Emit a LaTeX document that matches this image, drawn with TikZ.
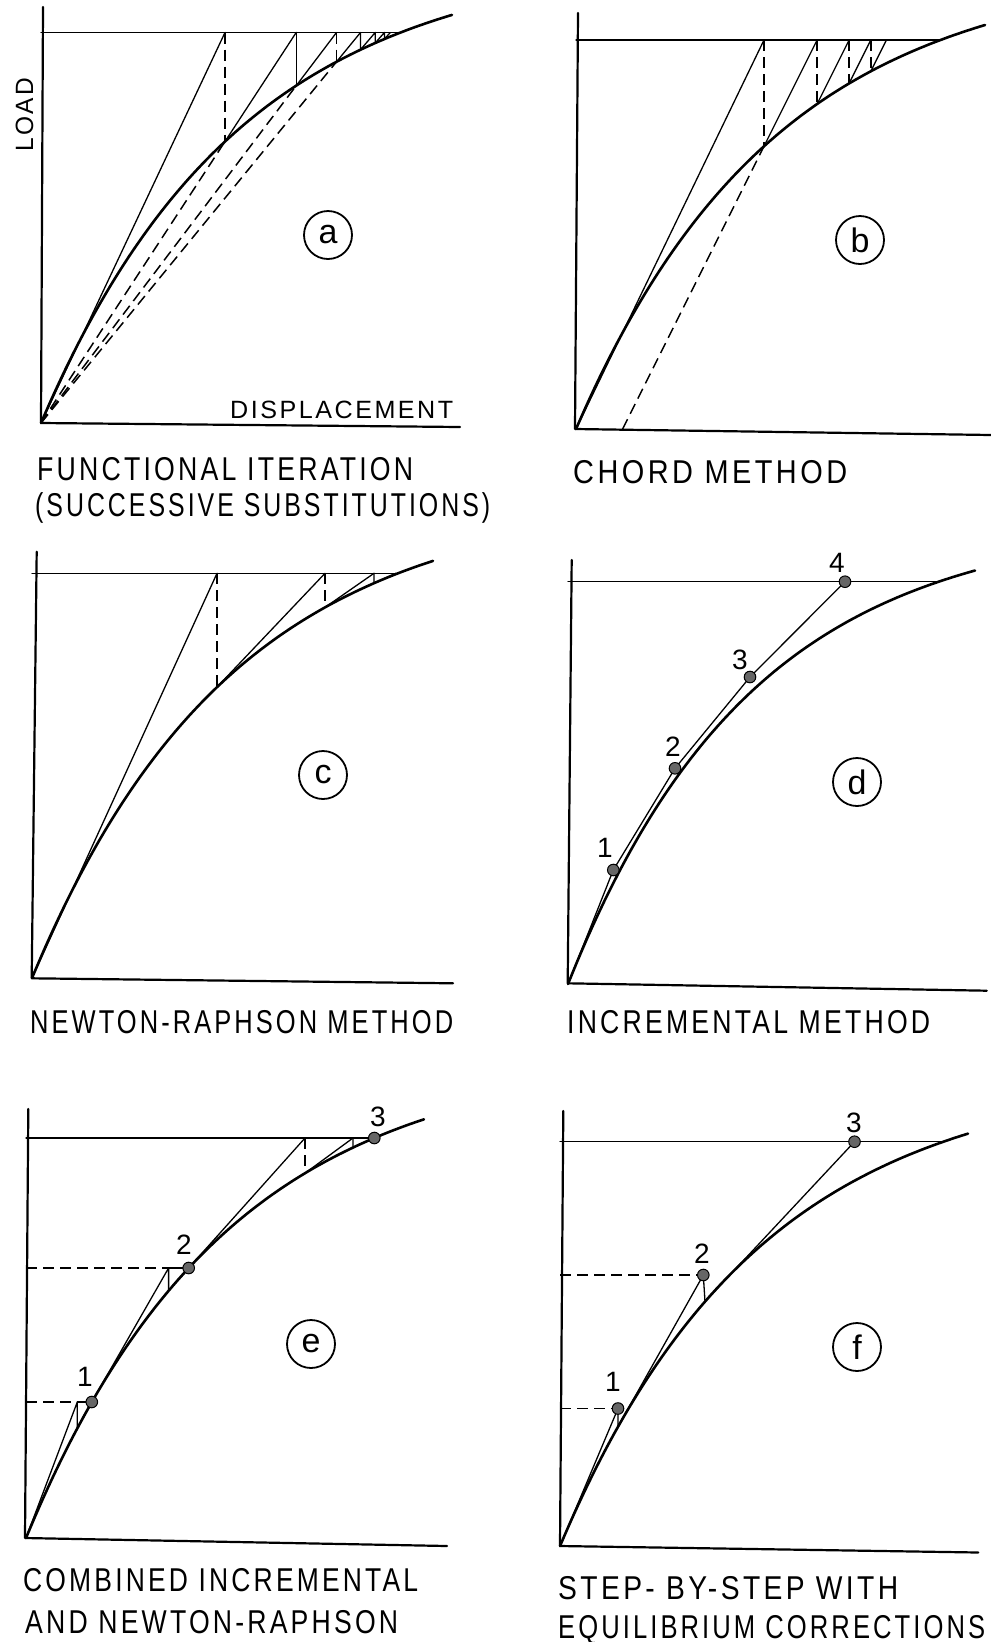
\documentclass[tikz,border=0pt]{standalone}
\usepackage{fontspec}
\setmainfont{Liberation Sans}
\usepackage{graphicx}
\newcommand\fitw[2]{\resizebox{#1}{\height}{#2}}
\tikzset{
  axis/.style={line width=2.2pt, line cap=round, line join=round},
  crv/.style={line width=2.6pt, line cap=round},
  thin/.style={line width=1.3pt, line cap=round, line join=round},
  dsh/.style={line width=1.5pt, dash pattern=on 11pt off 6pt},
  dot/.style={fill=black!60, draw=black, line width=1pt},
  capt/.style={anchor=base west, inner sep=0pt, font=\fontsize{33}{40}\selectfont\addfontfeatures{LetterSpace=12}},
  axlab/.style={anchor=base west, inner sep=0pt, font=\fontsize{25}{30}\selectfont\addfontfeatures{LetterSpace=10}},
  tag/.style={circle, draw, line width=1.8pt, minimum size=48pt, inner sep=0pt, font=\fontsize{34}{40}\selectfont},
  num/.style={inner sep=0pt, font=\fontsize{28}{33}\selectfont},
}
\begin{document}
\begin{tikzpicture}[x=1pt,y=-1pt]
\useasboundingbox (0,0) rectangle (991,1642);

% ================= panel a =================
\coordinate (aY) at (43,7); \coordinate (aO) at (41,423); \coordinate (aX) at (460,427);
\draw[axis] (aY) -- (aO) -- (aX);
\begin{scope}[shift={(41,423)}, yscale=-1]
  \draw[crv] plot[domain=0:411, samples=90] (\x,{468*(1-exp(-\x/200))});
  \coordinate (ao) at (0,0);
  \coordinate (aL) at (0,390.5); \coordinate (aE) at (359.6,390.5);
  \coordinate (at0) at (184,390.5);   \coordinate (ac0) at (184,281.5);
  \coordinate (at1) at (255.2,390.5); \coordinate (ac1) at (255.2,337.3);
  \coordinate (at2) at (295.5,390.5); \coordinate (ac2) at (295.5,361.2);
  \coordinate (at3) at (319.5,390.5); \coordinate (ac3) at (319.5,373.3);
  \coordinate (at4) at (334.2,390.5); \coordinate (ac4) at (334.2,380.0);
  \coordinate (at5) at (343.4,390.5); \coordinate (ac5) at (343.4,383.9);
  \coordinate (at6) at (349.3,390.5);
  \draw[thin] (aL) -- (aE);
  \draw[thin] (ao) -- (at0);
  \draw[dsh] (at0) -- (ac0);
  \draw[dsh] (ao) -- (ac0);
  \draw[thin] (ac0) -- (at1);
  \draw[thin] (at1) -- (ac1);
  \draw[dsh] (ao) -- (ac1);
  \draw[thin] (ac1) -- (at2);
  \draw[dsh] (at2) -- (ac2);
  \draw[dsh] (ao) -- (ac2);
  \draw[thin] (ac2) -- (at3);
  \draw[thin] (at3) -- (ac3) -- (at4) -- (ac4) -- (at5) -- (ac5) -- (at6);
\end{scope}
\node[axlab, rotate=90] (loadlab) at (33,152) {\fitw{74pt}{LOAD}};
\node[axlab] (displab) at (230,418) {\fitw{223pt}{DISPLACEMENT}};
\node[tag] (taga) at (328,235) {a};
\node[capt] (capa1) at (37,480) {\fitw{376pt}{FUNCTIONAL ITERATION}};
\node[capt] (capa2) at (35,516.5) {\fitw{455pt}{(SUCCESSIVE SUBSTITUTIONS)}};

% ================= panel b =================
\coordinate (bY) at (578,13); \coordinate (bO) at (575,429); \coordinate (bX) at (991,435);
\draw[axis] (bY) -- (bO) -- (bX);
\begin{scope}[shift={(576,429)}, yscale=-1]
  \draw[crv] plot[domain=0:409, samples=90] (\x,{464*(1-exp(-\x/200))});
  \coordinate (bo) at (0,0);
  \coordinate (bL) at (0,389); \coordinate (bE) at (364.6,389);
  \coordinate (bx) at (46.6,0);
  \coordinate (bt0) at (188,389);   \coordinate (bc0) at (188,282.8);
  \coordinate (bt1) at (241.1,389); \coordinate (bc1) at (241.1,325.0);
  \coordinate (bt2) at (273.1,389); \coordinate (bc2) at (273.1,345.6);
  \coordinate (bt3) at (294.8,389); \coordinate (bc3) at (294.8,357.7);
  \coordinate (bt4) at (310.45,389);
  \draw[thin] (bL) -- (bE);
  \draw[thin] (bo) -- (bt0);
  \draw[dsh] (bt0) -- (bc0);
  \draw[dsh] (bx) -- (bc0);
  \draw[thin] (bc0) -- (bt1);
  \draw[dsh] (bt1) -- (bc1);
  \draw[thin] (bc1) -- (bt2);
  \draw[dsh] (bt2) -- (bc2);
  \draw[thin] (bc2) -- (bt3);
  \draw[dsh] (bt3) -- (bc3);
  \draw[thin] (bc3) -- (bt4);
\end{scope}
\node[tag] (tagb) at (860,240) {b};
\node[capt] (capb) at (573,483) {\fitw{274pt}{CHORD METHOD}};

% ================= panel c =================
\coordinate (cY) at (36.7,551.7); \coordinate (cO) at (31.7,978.3); \coordinate (cX) at (453,983.3);
\draw[axis] (cY) -- (cO) -- (cX);
\begin{scope}[shift={(32,978)}, yscale=-1]
  \draw[crv] plot[domain=0:401, samples=90] (\x,{482*(1-exp(-\x/200))});
  \coordinate (co) at (0,0);
  \coordinate (cL) at (0,404.7); \coordinate (cE) at (366,404.7);
  \coordinate (ct0) at (185,404.7); \coordinate (cc0) at (185,290.9);
  \coordinate (ct1) at (293,404.7); \coordinate (cc1) at (293,370.6);
  \coordinate (ct2) at (342,404.7); \coordinate (cc2) at (342,394.8);
  \coordinate (ct3) at (364,404.7);
  \draw[thin] (cL) -- (cE);
  \draw[thin] (co) -- (ct0);
  \draw[dsh] (ct0) -- (cc0);
  \draw[thin] (cc0) -- (ct1);
  \draw[dsh] (ct1) -- (cc1);
  \draw[thin] (cc1) -- (ct2);
  \draw[thin] (ct2) -- (cc2) -- (ct3);
\end{scope}
\node[tag] (tagc) at (323,775) {c};
\node[capt] (capc) at (30,1033) {\fitw{423pt}{NEWTON-RAPHSON METHOD}};

% ================= panel d =================
\coordinate (dY) at (571.7,560); \coordinate (dO) at (567.7,983.3); \coordinate (dX) at (986.7,990.7);
\draw[axis] (dY) -- (dO) -- (dX);
\begin{scope}[shift={(568,984)}, yscale=-1]
  \draw[crv] plot[domain=0:407, samples=90] (\x,{465*(1-exp(-\x/185))});
  \coordinate (do) at (0,0);
  \coordinate (dL) at (0,402.3); \coordinate (dE) at (370.7,402.3);
  \coordinate (dP1) at (45.3,114);
  \coordinate (dP2) at (107,215.7);
  \coordinate (dP3) at (182,307);
  \coordinate (dP4) at (277,402.3);
  \draw[thin] (dL) -- (dE);
  \draw[thin] (do) -- (dP1) -- (dP2) -- (dP3) -- (dP4);
  \foreach \p in {dP1,dP2,dP3,dP4} \filldraw[dot] (\p) circle[radius=5.8];
\end{scope}
\node[num] (dn1) at (605,848) {1};
\node[num] (dn2) at (673,747) {2};
\node[num] (dn3) at (740,660) {3};
\node[num] (dn4) at (837,563) {4};
\node[tag] (tagd) at (857,782) {d};
\node[capt] (capd) at (567,1033) {\fitw{363pt}{INCREMENTAL METHOD}};

% ================= panel e =================
\coordinate (eY) at (28.3,1109); \coordinate (eO) at (25,1538); \coordinate (eX) at (447,1546);
\draw[axis] (eY) -- (eO) -- (eX);
\begin{scope}[shift={(26,1538)}, yscale=-1]
  \draw[crv] plot[domain=0:398, samples=90] (\x,{485*(1-exp(-\x/200))});
  \coordinate (eo) at (0,0);
  \coordinate (el1) at (0,136); \coordinate (el2) at (0,270); \coordinate (eL) at (0,400);
  \coordinate (eT1) at (51.3,136);  \coordinate (eD1) at (51.3,109.7); \coordinate (eP1) at (65.8,136);
  \coordinate (eT2) at (142.6,270); \coordinate (eD2) at (142.6,247.3); \coordinate (eP2) at (162.7,270);
  \coordinate (eT3) at (279,400);   \coordinate (eD3) at (279,364.8);
  \coordinate (eT4) at (327,400);   \coordinate (eD4) at (327,390.4);  \coordinate (eP3) at (348.3,400);
  \draw[dsh] (el1) -- (eT1); \draw[thin] (eT1) -- (eP1);
  \draw[dsh] (el2) -- (eT2); \draw[thin] (eT2) -- (eP2);
  \draw[thin] (eL) -- (eP3);
  \draw[thin] (eo) -- (eT1) -- (eD1) -- (eP1) -- (eT2) -- (eD2) -- (eP2) -- (eT3);
  \draw[dsh] (eT3) -- (eD3);
  \draw[thin] (eD3) -- (eT4);
  \draw[thin] (eT4) -- (eD4) -- (eP3);
  \foreach \p in {eP1,eP2,eP3} \filldraw[dot] (\p) circle[radius=5.8];
\end{scope}
\node[num] (en1) at (85,1377) {1};
\node[num] (en2) at (184,1245) {2};
\node[num] (en3) at (378,1117) {3};
\node[tag] (tage) at (311,1344) {e};
\node[capt] (cape1) at (23,1591) {\fitw{395pt}{COMBINED INCREMENTAL}};
\node[capt] (cape2) at (25,1633) {\fitw{373pt}{AND NEWTON-RAPHSON}};

% ================= panel f =================
\coordinate (fY) at (563.3,1111); \coordinate (fO) at (560,1546); \coordinate (fX) at (978.3,1552.5);
\draw[axis] (fY) -- (fO) -- (fX);
\begin{scope}[shift={(560,1546)}, yscale=-1]
  \draw[crv] plot[domain=0:408, samples=90] (\x,{474*(1-exp(-\x/200))});
  \coordinate (fo) at (0,0);
  \coordinate (fl1) at (0,137.5); \coordinate (fl2) at (0,271); \coordinate (fL) at (0,404.3);
  \coordinate (fE) at (382.5,404.3);
  \coordinate (fP1) at (58,137.5);   \coordinate (fC1) at (58,119.3);
  \coordinate (fP2) at (143.3,271);  \coordinate (fC2) at (145,244.4);
  \coordinate (fP3) at (294.5,404.3);
  \draw[dsh] (fl1) -- (fP1);
  \draw[dsh] (fl2) -- (fP2);
  \draw[thin] (fL) -- (fE);
  \draw[thin] (fo) -- (fP1) -- (fC1) -- (fP2) -- (fC2) -- (fP3);
  \foreach \p in {fP1,fP2,fP3} \filldraw[dot] (\p) circle[radius=5.8];
\end{scope}
\node[num] (fn1) at (613,1382) {1};
\node[num] (fn2) at (702,1254) {2};
\node[num] (fn3) at (854,1123) {3};
\node[tag] (tagf) at (857,1347) {f};
\node[capt] (capf1) at (558,1599) {\fitw{340pt}{STEP- BY-STEP WITH}};
\node[capt] (capf2) at (558,1638) {\fitw{427pt}{EQUILIBRIUM CORRECTIONS}};
\end{tikzpicture}
\end{document}
